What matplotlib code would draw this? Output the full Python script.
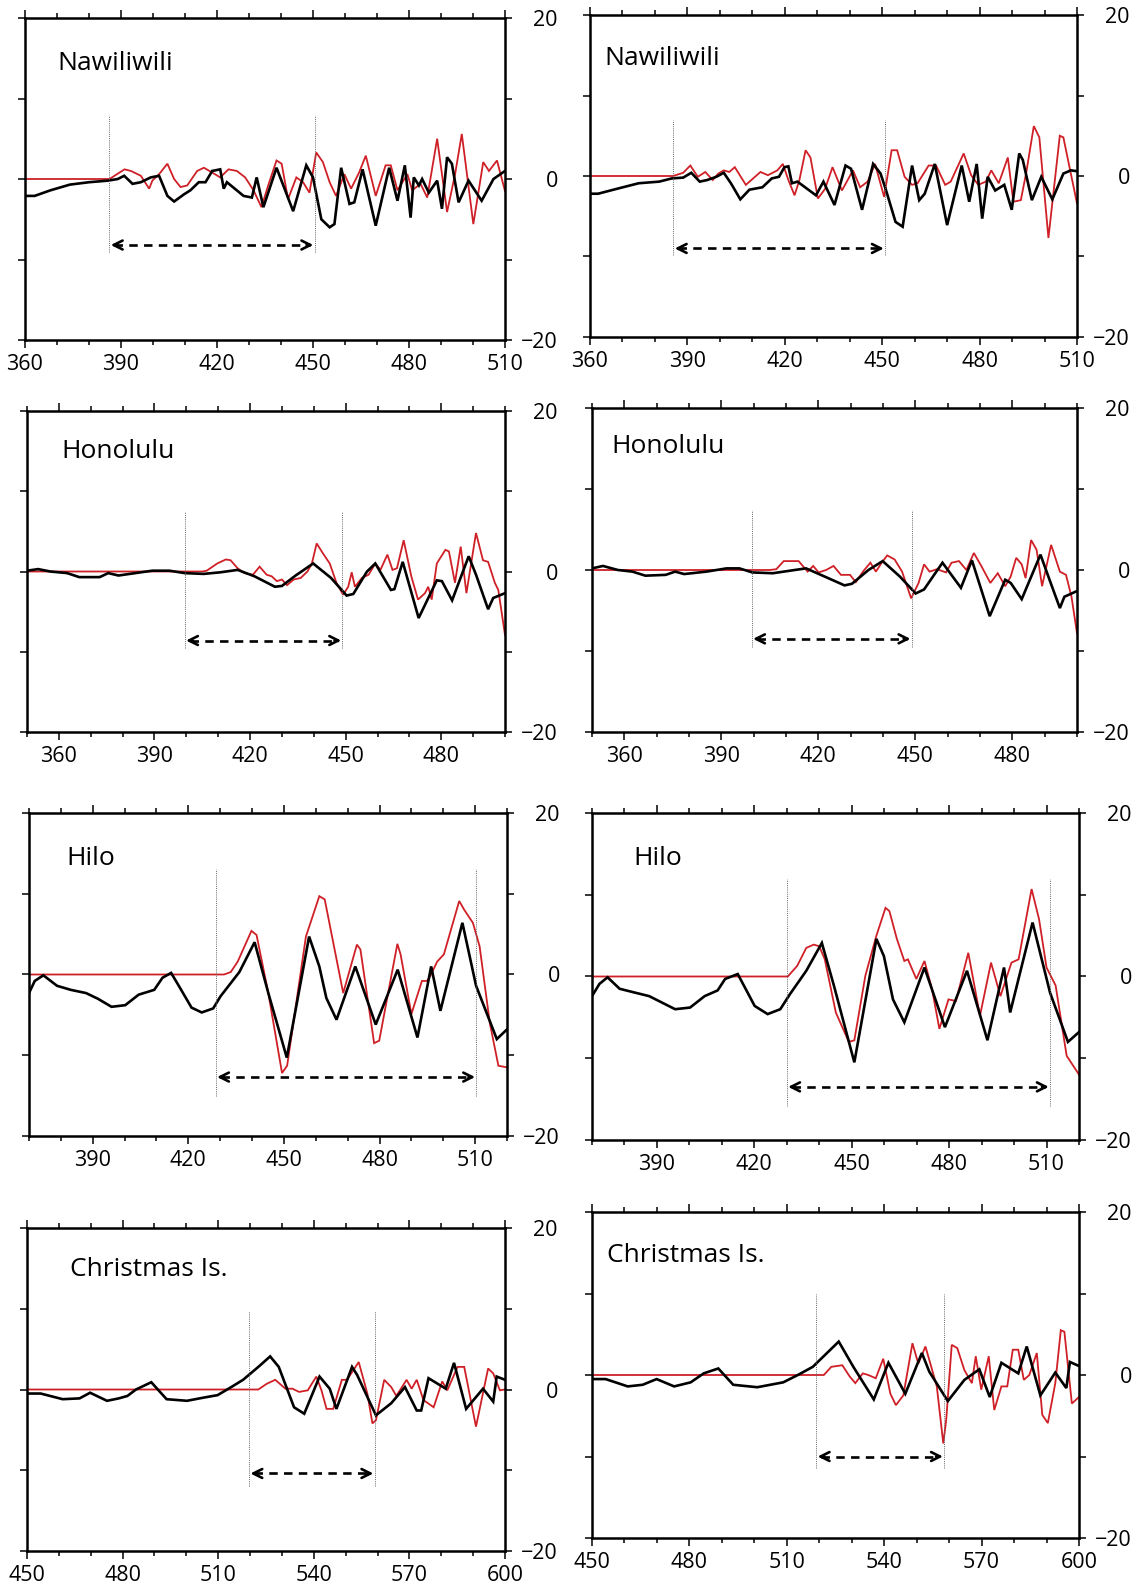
import numpy as np
import matplotlib.pyplot as plt
from matplotlib.ticker import MultipleLocator, FixedLocator

plt.rcParams['font.family'] = ['Open Sans', 'DejaVu Sans']

RED = '#cf2027'

# station names, one per panel (left = run A, right = run B)
stations = ['Nawiliwili', 'Nawiliwili', 'Honolulu', 'Honolulu',
            'Hilo', 'Hilo', 'Christmas Is.', 'Christmas Is.']
x_ranges = [(360, 510), (360, 510), (350, 500), (350, 500),
            (370, 520), (370, 520), (450, 600), (450, 600)]
x_first_label = [360, 360, 360, 360, 390, 390, 450, 450]

# comparison window (dotted lines + dashed arrow)
win_start = [386.4, 385.7, 399.5, 399.4, 428.6, 430.0, 519.7, 519.1]
win_end = [450.5, 450.9, 449.0, 448.9, 510.4, 511.1, 559.1, 558.5]
win_top = [7.9, 6.9, 7.4, 7.4, 13.1, 11.9, 9.7, 10.0]
win_bottom = [-9.1, -9.8, -9.5, -9.5, -15.0, -15.8, -11.9, -11.4]
arrow_y = [-8.2, -9.0, -8.6, -8.5, -12.7, -13.5, -10.4, -10.0]

# (time, amplitude) pairs
nawi_a_black = [(360, -2.1), (363, -2.1), (368, -1.4), (374, -0.7), (380, -0.4), (386, -0.2),
                (389, 0), (391, 0.4), (393.6, -0.6), (396.2, -0.4), (399.3, 0.2), (401.9, 0.4),
                (404.5, -2.1), (406.6, -2.8), (409.7, -1.9), (411.7, -1.4), (414.3, -0.4),
                (416.4, -0.4), (418.5, 1.0), (421, 1.2), (422.1, -1.2), (423.1, -0.4),
                (428.3, -2.1), (430.9, -2.3), (432.4, 0.2), (434.5, -3.5), (438.6, 1.4),
                (443.8, -4.0), (447.9, 1.7), (450, 0.2), (452.6, -5.0), (455.2, -6.0),
                (456.7, -5.6), (458.8, 1.4), (461.4, -3.1), (462.9, -2.9), (465.5, 1.2),
                (469.6, -5.8), (473.8, 1.4), (476.4, -2.7), (478.7, 1.7), (480.5, -4.8),
                (481.5, 0.2), (483.1, -0.8), (484.1, 0), (486.2, -1.7), (488.8, -0.2),
                (490.3, -3.7), (491.9, 2.7), (493.4, 1.9), (495.5, -2.9), (498.6, -0.2),
                (502.7, -2.7), (506.4, 0), (510, 1.0)]
nawi_a_red = [(360, 0), (386.4, 0), (391.1, 1.2), (393.1, 1.0), (396.2, 0.4), (398.8, -1.2),
              (399.8, -0.2), (401.9, 0.6), (404.5, 1.9), (406.6, 0), (408.6, -1.0), (410.7, -0.8),
              (413.8, 1.0), (415.9, 1.4), (418.5, 0.8), (421, 0.2), (423.6, 1.2), (426.2, 1.0),
              (428.8, 0.2), (431.4, -1.4), (433.9, -3.5), (436, -0.8), (438.6, 2.3), (440.2, 1.9),
              (442.2, -2.5), (444.8, 0.2), (446.9, -0.4), (448.9, -1.7), (451, 3.3), (453.1, 2.1),
              (455.2, -0.4), (457.2, -2.1), (459.8, 0.6), (461.9, -1.2), (464.4, 0.8),
              (466.5, 2.9), (469.6, -2.1), (472.7, 1.7), (474.3, 1.7), (476.4, -1.4),
              (479.5, 0.6), (481, -1.4), (483.6, -0.6), (485.7, -2.3), (488.8, 5.0),
              (491.9, -4.1), (494.4, 0.6), (496.5, 5.6), (500.1, -5.6), (503.2, 2.1),
              (505, 1.0), (507.5, 2.3), (510, -1.5)]

nawi_b_black = [(360, -2.2), (362.5, -2.2), (368.2, -1.6), (375, -0.9), (381.3, -0.7), (385.2, -0.3),
                (388.7, -0.2), (391.2, 0.4), (393.8, -0.7), (396.1, -0.5), (398.9, -0.1),
                (401.2, 0.4), (403.4, -0.9), (406.3, -2.9), (409.1, -1.7), (413.1, -1.4),
                (416, -0.3), (418.2, -0.1), (419.9, 1.1), (421.1, 1.2), (422.2, -0.9),
                (423.9, -0.7), (429.6, -2.4), (431.9, -0.7), (435.3, -3.6), (438.7, 1.3),
                (440.4, 0.9), (443.8, -4.2), (447.2, 1.5), (449.5, 0.3), (451.2, -1.8),
                (454.1, -5.7), (456.3, -6.3), (459.2, 1.3), (461.4, -3.0), (463.1, -2.2),
                (466.2, 1.5), (470, -6.1), (474.5, 1.3), (476.8, -3.2), (479.1, 1.5),
                (480.8, -5.3), (482.5, -0.1), (484.8, -1.8), (487.6, -1.1), (489.9, -4.2),
                (492.2, 2.8), (493.3, 2.0), (496.1, -3.0), (499, -0.1), (502.4, -2.9),
                (505.8, 0.3), (508.1, 0.7), (510, 0.6)]
nawi_b_red = [(360, 0), (385.6, 0), (388.7, 0.4), (390.9, 1.3), (393.2, -0.1), (395.5, 0.5),
              (397.8, -0.5), (399.5, 0.3), (401.2, 0.7), (402.9, 0.5), (404.6, 1.1), (408, -1.1),
              (409.7, -0.5), (412.5, 0.5), (414.8, 0.1), (417.7, 0.7), (419.4, 1.5), (421.1, -0.5),
              (423, -2.4), (424.5, -0.5), (426.4, 3.2), (427.9, 2.3), (430.2, -2.8), (432.4, -1.6),
              (434.7, 1.1), (437.6, -1.8), (441, 0.7), (443.2, -1.4), (445.5, -0.7), (447.8, 1.5),
              (450.6, -2.6), (452.9, 3.2), (454.6, 3.2), (456.9, -0.1), (459.2, -1.1),
              (460.9, -0.9), (464.3, 1.3), (466.6, 1.3), (469.4, -1.1), (471.1, -0.7),
              (475.1, 2.8), (477.4, 0.1), (479.6, -1.1), (481.9, -0.7), (483.6, 0.7),
              (485.9, -0.9), (488.7, 2.3), (490.4, -3.2), (492.7, -3.0), (494.4, 0.5),
              (496.7, 6.2), (498.4, 4.8), (501.2, -7.7), (504.7, 5.0), (505.8, 4.8),
              (508.1, 0.3), (510, -3.4)]

hono_a_black = [(350, 0.1), (353.5, 0.3), (357.3, 0), (362.6, -0.2), (366.4, -0.7), (372.8, -0.7),
                (375.5, -0.2), (378.7, -0.5), (384, -0.2), (389.3, 0.1), (394.7, 0.1),
                (399.5, -0.2), (405.4, -0.3), (410.7, -0.1), (416.1, 0.2), (421.4, -0.6),
                (427.8, -1.9), (430, -1.8), (434.3, -0.5), (439.8, 1.0), (445.4, -0.8),
                (450.3, -3.0), (452.4, -2.8), (456.7, 0), (459.3, 1.0), (464.2, -2.3),
                (465.3, -2.2), (467.9, 1.2), (472.9, -5.8), (478.6, -1.1), (480.2, -1.2),
                (483.4, -3.6), (488.6, 1.9), (490.9, -0.4), (494.7, -4.7), (496.3, -3.3),
                (500, -2.7)]
hono_a_red = [(350, 0), (405, 0), (406.4, 0.1), (409.7, 1.0), (412.4, 1.5), (413.9, 1.4),
              (416.1, 0.4), (418.2, -0.2), (420.9, -0.4), (423, 0.6), (425.2, -0.4), (426.8, -0.6),
              (428.4, -1.2), (430, -1.0), (431.6, -1.7), (433.7, -1.0), (435.9, -0.8), (438, 0),
              (439.4, 1.0), (440.9, 3.5), (442.8, 2.3), (445, 1.0), (447.1, -1.4), (449.2, -2.9),
              (450.8, -1.9), (451.9, -0.1), (452.9, -1.9), (455.1, -0.8), (457.2, -0.4),
              (459.3, 1.0), (460.9, 0.2), (463.1, 2.1), (464.7, 0.2), (466.1, 0.4), (468.2, 3.9),
              (470.6, -0.6), (472.7, -3.5), (474.9, -2.7), (475.9, -1.9), (477, -3.5),
              (478.6, 1.0), (481.3, 2.7), (482.4, 2.5), (484.3, -1.4), (486.1, 3.1),
              (487.9, -2.7), (490.9, 4.8), (493.1, 1.4), (494.7, 1.2), (496.8, -1.4),
              (497.9, -2.3), (500, -7.9)]

hono_b_black = [(350, 0.2), (353.4, 0.5), (358, 0), (362.5, -0.2), (366.5, -0.7), (372.8, -0.6),
                (375.7, -0.2), (378.5, -0.5), (385.4, -0.2), (391.6, 0.2), (395.6, 0.2),
                (399.6, -0.3), (405.9, -0.4), (412.7, 0), (416.2, 0.2), (421.9, -0.8),
                (428.1, -1.9), (430.4, -1.7), (435.5, 0), (439.9, 1.1), (445.2, -0.8),
                (450.1, -2.9), (452.7, -2.4), (458.4, 0.9), (464.1, -2.2), (467.5, 1.2),
                (473, -5.7), (477.8, -1.2), (479.5, -1.6), (482.9, -3.6), (488.7, 1.9),
                (491.5, -1.2), (494.7, -4.7), (496.1, -3.3), (500, -2.6)]
hono_b_red = [(350, 0), (405, 0), (407, 0.1), (409.3, 1.1), (413.9, 1.1), (416.7, -0.2),
              (418.4, 0.5), (420.1, -0.3), (422.4, 0), (424.7, 0.5), (427, -0.6), (429.8, -0.6),
              (431.6, -1.5), (433.8, -0.2), (436.1, 0.9), (437.8, -0.2), (439.6, 0.9),
              (441.3, 1.8), (443.6, 1.3), (445.9, -0.2), (448.7, -3.5), (451, -1.6),
              (452.7, 0.7), (454.4, -0.2), (456.7, 0.1), (459.5, -0.3), (461.2, 0.9),
              (463.5, 1.1), (465.8, 0), (468.1, 2.1), (470.4, 0.5), (473.2, -1.6), (475.5, -0.4),
              (477.8, -2.0), (479.5, -0.8), (481.2, 1.5), (482.9, 0.7), (484.1, -1.0),
              (485.8, 3.7), (487.5, 2.5), (489.2, -2.0), (492, 3.1), (494.7, -0.2),
              (496.6, -0.6), (498.3, -3.3), (500, -7.8)]

hilo_a_black = [(370, -2.3), (371.8, -0.8), (374.5, -0.1), (378.8, -1.4), (383.1, -1.9),
                (387.9, -2.3), (391.6, -3.0), (395.9, -4.0), (400.2, -3.8), (404.4, -2.5),
                (409.3, -1.9), (411.9, -0.4), (414.6, 0.2), (417.3, -1.6), (421, -4.1),
                (424.2, -4.7), (427.8, -4.2), (430.1, -2.7), (436, 0.3), (440.8, 4.0),
                (445.1, -2.3), (450.9, -10.3), (457.9, 4.7), (461.1, 1.0), (463.3, -2.9),
                (466.5, -5.6), (472.4, 1.0), (478.8, -6.2), (485.7, 0.6), (491.9, -7.8),
                (496.2, 1.0), (499.1, -4.5), (506, 6.4), (510.3, -1.4), (516.8, -8.0), (520, -6.8)]
hilo_a_red = [(370, 0), (431.2, 0), (433.3, 0.3), (435.5, 1.6), (439.8, 5.4), (441.4, 4.9),
              (445.1, -2.3), (449.4, -12.2), (451, -11.3), (456.9, 4.7), (461.1, 9.7),
              (462.8, 9.3), (468.6, -2.3), (472.9, 3.7), (474, 3.1), (478.3, -8.5), (479.9, -8.2),
              (485.6, 3.8), (486.6, 2.5), (490, -4.9), (493.3, -0.8), (494.9, -0.8), (495.9, -0.2),
              (498.1, 1.6), (500.2, 2.5), (505, 9.1), (506.6, 8.0), (509.3, 6.4), (511.4, 3.5),
              (514.6, -6.0), (517.3, -11.3), (520, -11.5)]

hilo_b_black = [(370, -2.4), (372.3, -0.9), (374.8, -0.1), (378.5, -1.5), (382.5, -1.9),
                (387.6, -2.4), (391.6, -3.2), (395.6, -4.0), (400.2, -3.8), (404.7, -2.4),
                (408.7, -1.7), (411, -0.3), (414.9, 0.3), (420.1, -3.6), (424.1, -4.6),
                (428, -4.0), (430.9, -2.2), (436, 0.7), (440.8, 4.1), (444.5, -1.1),
                (450.8, -10.5), (457.6, 4.6), (459.9, 2.5), (462.7, -2.8), (466.2, -5.6),
                (472.4, 1.1), (478.7, -6.2), (485.5, 0.7), (491.8, -7.8), (496.9, 1.1),
                (498.8, -4.4), (505.7, 6.6), (511.1, -2.0), (516.6, -8.0), (520, -6.8)]
hilo_b_red = [(370, 0), (430.3, 0), (433.2, 1.3), (436, 3.5), (438.3, 3.9), (440, 3.7),
              (441.7, 2.1), (445.1, -4.4), (449.1, -8.0), (450.8, -7.8), (454.2, 0.1),
              (457.6, 5.0), (460.4, 8.4), (461.6, 8.0), (463.9, 4.6), (466.2, 1.9), (467.3, 2.1),
              (469.9, -0.3), (472.4, 1.9), (474.7, -1.5), (477, -6.4), (479.8, -2.8),
              (482.1, -3.0), (485.9, 2.9), (489.5, -4.8), (492.9, 1.7), (495.8, -2.4),
              (499.2, 1.7), (501.4, 2.1), (505.4, 10.7), (507.7, 7.0), (510, 1.1),
              (512.8, -1.1), (516.2, -9.7), (520, -12.0)]

xmas_a_black = [(450, -0.5), (454.3, -0.5), (461.2, -1.2), (466.5, -1.1), (469.8, -0.4),
                (475.1, -1.4), (478.8, -1.1), (481.5, -0.8), (484.2, 0), (489, 0.9),
                (493.8, -1.2), (500.2, -1.4), (505.5, -1.0), (509.8, -0.7), (514.1, 0.3),
                (517.8, 1.2), (522.6, 2.8), (526.3, 4.1), (529, 2.8), (533.8, -2.2), (537, -3.0),
                (541.8, 1.6), (545, 0.1), (547.1, -2.4), (552, 2.8), (553.6, 1.8), (559.5, -3.2),
                (564.3, -1.7), (568.6, 0.3), (572.3, -2.6), (573.7, -2.6), (576, 1.4),
                (581.4, 0.1), (584, 3.3), (587.8, -2.4), (593.1, 0.1), (596.3, -1.5),
                (597.4, 1.6), (600, 1.2)]
xmas_a_red = [(450, 0), (522.6, 0), (525.2, 0.7), (527.9, 1.2), (531.1, 0.1), (533.3, 0.1),
              (535.4, -0.3), (538.1, -0.1), (540.8, 1.6), (542.4, -0.1), (544, -2.4),
              (546.1, -2.4), (548.8, 1.2), (550.4, 1.2), (554.1, 3.4), (556.8, -0.5),
              (558.4, -4.2), (559.5, -3.8), (562.1, 1.2), (564.3, 0.3), (565.9, -0.8),
              (569.1, 1.2), (570.7, 0.1), (572.3, 1.2), (574.4, -1.3), (577.6, -2.2),
              (580.3, 1.0), (581.9, -0.1), (585.1, 2.8), (587.2, 2.8), (590.9, -4.6),
              (594.7, 2.6), (596.3, 2.0), (598.4, -0.1), (600, 0)]

xmas_b_black = [(450, -0.5), (454.2, -0.5), (461, -1.4), (465.6, -1.2), (469.9, -0.5),
                (475.3, -1.4), (480.4, -0.9), (484.4, 0.2), (488.9, 0.8), (493.5, -1.2),
                (500.9, -1.5), (508.9, -0.9), (513.4, 0), (518, 1.0), (526, 4.1), (530.5, 1.0),
                (536.8, -3.0), (541.3, 1.5), (546.5, -2.3), (551.6, 2.7), (553.9, 0.4),
                (559.6, -3.2), (564.7, -0.6), (569.3, 0.7), (572.5, -2.7), (576.1, 1.5),
                (581.3, 0.2), (583.9, 3.5), (588.1, -2.5), (592.7, 0.3), (596.1, -1.6),
                (597.2, 1.6), (600, 1.1)]
xmas_b_red = [(450, 0), (521.4, 0), (523.7, 1.0), (527.1, 1.2), (529.4, -0.2), (531.1, -1.0),
              (533.4, 0.2), (535.1, 0), (537.4, -0.4), (539.7, 2.0), (541.9, -2.3), (543.6, -3.7),
              (545.9, -2.5), (548.7, 3.9), (550.5, 1.4), (552.7, 3.5), (554.5, 1.0),
              (556.2, -1.4), (558.2, -8.4), (559.1, -5.5), (560.8, 3.7), (562.5, 3.3),
              (564.7, 0.6), (567, -1.0), (568.2, 2.3), (569.9, -1.8), (572.2, 2.3), (573.9, -4.3),
              (576.1, -1.4), (577.9, -1.4), (579.6, 3.1), (581.3, 3.1), (583, -0.6), (584.7, 0),
              (587, 2.7), (588.7, -4.9), (590.4, -5.9), (592.7, -1.0), (594.4, 5.5),
              (595.5, 5.3), (597.8, -3.5), (600, -2.7)]

black_series = [nawi_a_black, nawi_b_black, hono_a_black, hono_b_black,
                hilo_a_black, hilo_b_black, xmas_a_black, xmas_b_black]
red_series = [nawi_a_red, nawi_b_red, hono_a_red, hono_b_red,
              hilo_a_red, hilo_b_red, xmas_a_red, xmas_b_red]

# panel frames in pixels: left, top, right, bottom
W, H = 1142, 1590
boxes = [(25, 18, 505, 340), (590, 15, 1077, 337),
         (27, 411, 505, 732), (592, 408, 1077, 732),
         (29, 813, 507, 1136), (592, 813, 1079, 1140),
         (27, 1228, 505, 1551), (592, 1212, 1079, 1538)]
name_pos = [(0.068, 0.86), (0.03, 0.865), (0.072, 0.873), (0.04, 0.88),
            (0.078, 0.86), (0.084, 0.86), (0.09, 0.87), (0.03, 0.867)]

fig = plt.figure(figsize=(W / 100, H / 100), dpi=100)

for i in range(8):
    x0, top, x1, bot = boxes[i]
    ax = fig.add_axes([x0 / W, 1 - bot / H, (x1 - x0) / W, (bot - top) / H])

    rt, rv = np.array(red_series[i]).T
    bt, bv = np.array(black_series[i]).T
    ax.plot(rt, rv, color=RED, lw=1.3, solid_joinstyle='miter')
    ax.plot(bt, bv, color='k', lw=1.9, solid_joinstyle='miter')

    # window markers
    for xw in (win_start[i], win_end[i]):
        ax.plot([xw, xw], [win_bottom[i], win_top[i]], color='0.4', lw=0.7,
                ls=(0, (1, 1.2)))
    ay = arrow_y[i]
    ax.plot([win_start[i] + 1.5, win_end[i] - 1.5], [ay, ay], color='k', lw=1.9,
            ls=(0, (3.2, 2.4)))
    for tip, tail in ((win_start[i] + 0.4, win_start[i] + 2.5), (win_end[i] - 0.4, win_end[i] - 2.5)):
        ax.annotate('', xy=(tip, ay), xytext=(tail, ay),
                    arrowprops=dict(arrowstyle='->', lw=1.9, color='k',
                                    shrinkA=0, shrinkB=0, mutation_scale=16))

    ax.text(name_pos[i][0], name_pos[i][1], stations[i], transform=ax.transAxes,
            fontsize=19, ha='left', va='center')

    ax.set_xlim(*x_ranges[i])
    ax.set_ylim(-20, 20)
    ax.xaxis.set_major_locator(FixedLocator(np.arange(x_first_label[i], x_ranges[i][1] + 1, 30)))
    ax.xaxis.set_minor_locator(MultipleLocator(10))
    ax.yaxis.set_major_locator(FixedLocator([-20, 0, 20]))
    ax.yaxis.set_minor_locator(FixedLocator([-10, 10]))

    ax.tick_params(axis='x', which='both', direction='out', top=True, bottom=True,
                   labeltop=False, labelsize=15.5, width=1.1)
    ax.tick_params(axis='x', which='major', length=6, pad=4)
    ax.tick_params(axis='x', which='minor', length=3.5)
    ax.tick_params(axis='y', which='both', direction='out', left=True, right=True,
                   labelleft=False, labelright=True, labelsize=15.5, width=1.1, length=5)
    ax.tick_params(axis='y', which='major', pad=33)
    for t in ax.yaxis.get_major_ticks():
        t.label2.set_horizontalalignment('right')
    for s in ax.spines.values():
        s.set_linewidth(1.8)

fig.savefig('out.png', dpi=100)
